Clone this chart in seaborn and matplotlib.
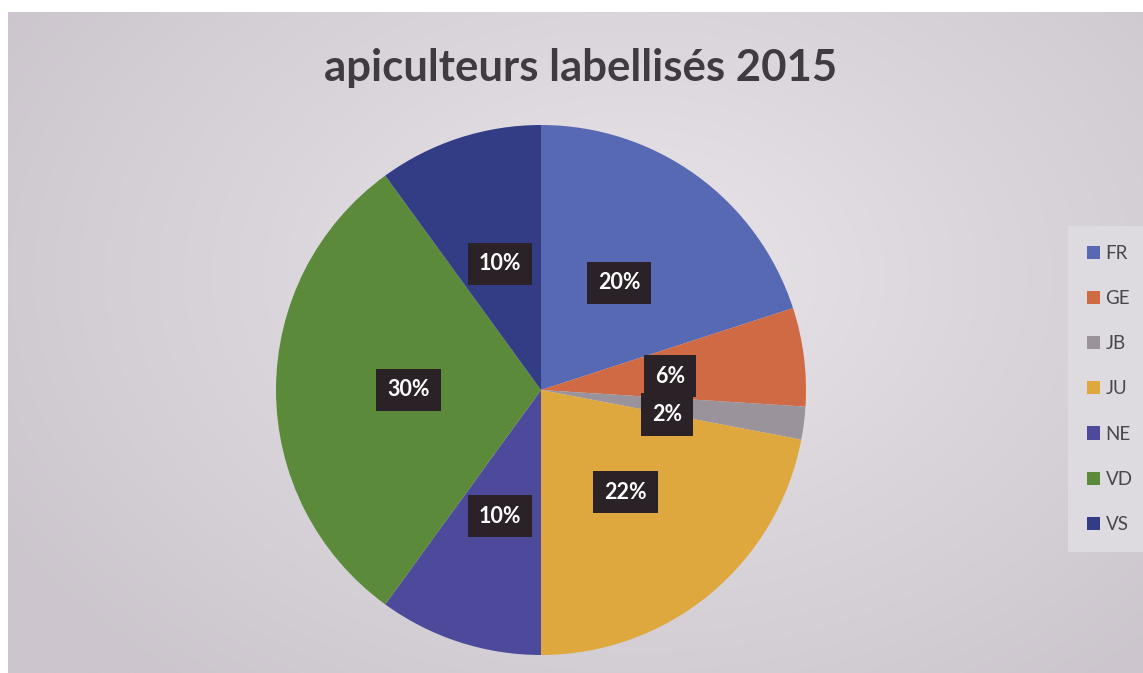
import numpy as np
import matplotlib
matplotlib.use("Agg")
import matplotlib.pyplot as plt
import seaborn as sns
from matplotlib.patches import Patch

# Share of labelled beekeepers per region (percent)
regions = ["FR", "GE", "JB", "JU", "NE", "VD", "VS"]
shares = [20, 6, 2, 22, 10, 30, 10]
colors = ["#5869b3", "#cf6a45", "#9a939c", "#dfa83f", "#4d4a9c", "#5a8a3a", "#333d85"]
title = "apiculteurs labellisés 2015"

sns.set_theme(style="white")
plt.rcParams["font.family"] = ["Lato", "DejaVu Sans"]

W, H = 1143, 673
fig = plt.figure(figsize=(W / 100, H / 100), dpi=100, facecolor="white")

# soft grey paper background, lighter towards the middle
bg = fig.add_axes([8 / W, 0, 1 - 8 / W, (H - 12) / H])
yy, xx = np.mgrid[0:1:300j, 0:1:500j]
d = np.clip(np.sqrt(((xx - 0.55) / 0.65) ** 2 + ((yy - 0.4) / 0.8) ** 2), 0, 1)
light = np.array([232, 229, 233]) / 255
dark = np.array([204, 197, 205]) / 255
img = light[None, None, :] * (1 - d[..., None]) + dark[None, None, :] * d[..., None]
bg.imshow(img, aspect="auto", extent=[0, 1, 0, 1], origin="upper")
bg.set_axis_off()

# pie
R = 265
cx, cy = 541, 390
ax = fig.add_axes([(cx - R) / W, (H - cy - R) / H, 2 * R / W, 2 * R / H])
ax.set_facecolor("none")
wedges, texts, autotexts = ax.pie(
    shares,
    colors=colors,
    startangle=90,
    counterclock=False,
    autopct=lambda p: f"{p:.0f}%",
    pctdistance=0.5,
    wedgeprops=dict(linewidth=0),
)
for t in autotexts:
    t.set_color("white")
    t.set_fontsize(15.5)
    t.set_fontweight("bold")
    t.set_bbox(dict(boxstyle="square,pad=0.5", facecolor="#2a2226", edgecolor="none"))
# keep the two small labels apart
x, y = autotexts[2].get_position()
autotexts[2].set_position((x - 0.02, y - 0.03))
x, y = autotexts[1].get_position()
autotexts[1].set_position((x - 0.01, y - 0.01))
ax.set_xlim(-1, 1)
ax.set_ylim(-1, 1)
ax.set_aspect("equal")
ax.set_axis_off()

fig.text(581 / W, 1 - 68 / H, title, ha="center", va="center",
         fontsize=31.5, fontweight="bold", color="#3f3b40")

handles = [Patch(facecolor=c, edgecolor="none") for c in colors]
leg = fig.legend(
    handles, regions,
    loc="center left", bbox_to_anchor=(1068 / W, 1 - 389 / H),
    frameon=True, facecolor="#dddbe0", edgecolor="none", framealpha=1,
    fancybox=False, handlelength=0.7, handleheight=0.7, handletextpad=0.3,
    labelspacing=1.5, fontsize=13.5, borderpad=1.0, borderaxespad=0,
)
for t in leg.get_texts():
    t.set_color("#4a464c")

fig.savefig("out.png", dpi=100, facecolor=fig.get_facecolor())
